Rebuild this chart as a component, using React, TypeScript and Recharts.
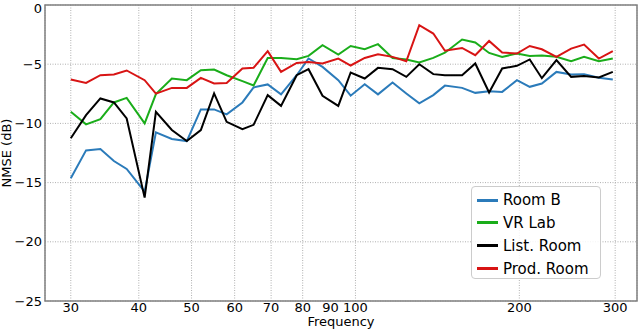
import React from "react";
import {
  CartesianGrid,
  Legend,
  Line,
  LineChart,
  ReferenceArea,
  XAxis,
  YAxis,
} from "recharts";

const frequencies = [
  30, 32, 34, 36, 38, 41, 43, 46, 49, 52, 55, 58, 62, 65, 69, 73, 78, 82, 87,
  93, 98, 104, 110, 117, 124, 131, 139, 146, 157, 166, 176, 186, 198, 209, 220,
  234, 249, 263, 280, 297,
];

const roomB = [
  -14.64, -12.28, -12.17, -13.18, -13.85, -15.77, -10.76, -11.32, -11.49, -8.82,
  -8.82, -9.24, -8.23, -6.96, -6.71, -7.55, -5.93, -4.52, -5.23, -6.35, -7.66,
  -6.69, -7.55, -6.54, -7.47, -8.31, -7.61, -6.81, -7.0, -7.42, -7.28, -7.34,
  -6.35, -6.91, -6.63, -5.65, -5.87, -5.84, -6.15, -6.29,
];

const vrLab = [
  -9.02, -10.08, -9.64, -8.23, -7.84, -10.0, -7.53, -6.21, -6.35, -5.51, -5.45,
  -5.93, -6.43, -6.8, -4.47, -4.47, -4.58, -4.3, -3.4, -4.18, -3.46, -3.74,
  -3.31, -4.47, -4.6, -4.86, -4.47, -4.03, -2.92, -3.17, -4.05, -4.38, -4.1,
  -4.3, -4.27, -4.38, -4.75, -4.38, -4.75, -4.52,
];

const listRoom = [
  -11.26, -9.3, -7.89, -8.23, -9.58, -16.27, -9.02, -10.56, -11.49, -10.56,
  -7.47, -9.87, -10.48, -10.12, -7.61, -8.52, -5.93, -5.42, -7.67, -8.52, -5.7,
  -6.21, -5.31, -5.42, -6.07, -5.0, -5.84, -5.93, -5.93, -4.94, -7.39, -5.36,
  -5.14, -4.6, -6.18, -4.66, -6.07, -5.99, -6.12, -5.65,
];

const prodRoom = [
  -6.29, -6.58, -5.93, -5.87, -5.53, -6.35, -7.49, -7.0, -7.0, -6.16, -6.63,
  -6.58, -5.36, -5.3, -3.9, -5.65, -4.89, -4.81, -4.94, -4.52, -5.11, -4.47,
  -4.16, -4.38, -4.75, -1.71, -2.41, -3.86, -3.63, -4.24, -3.04, -4.01, -4.1,
  -3.46, -3.74, -4.38, -3.68, -3.34, -4.52, -3.9,
];

const xTicks = [30, 40, 50, 60, 70, 80, 90, 100, 200, 300];
const yTicks = [-25, -20, -15, -10, -5, 0];

const series = [
  { key: "roomB", name: "Room B", color: "#2b7bba" },
  { key: "vrLab", name: "VR Lab", color: "#1aad1a" },
  { key: "listRoom", name: "List. Room", color: "#000000" },
  { key: "prodRoom", name: "Prod. Room", color: "#d81414" },
];

const data = frequencies.map((f, i) => ({
  f,
  roomB: roomB[i],
  vrLab: vrLab[i],
  listRoom: listRoom[i],
  prodRoom: prodRoom[i],
}));

const FONT = "DejaVu Sans";
const X_MIN = 26.9;
const X_MAX = 329;

// legend drawn in series order (recharts sorts its payload by name)
function LegendBox() {
  return (
    <div
      style={{
        width: 130,
        height: 93,
        boxSizing: "border-box",
        border: "1px solid #cccccc",
        borderRadius: 4,
        background: "rgba(255,255,255,0.85)",
        position: "relative",
        fontFamily: FONT,
        fontSize: 15,
        color: "#000",
      }}
    >
      {series.map((s, i) => (
        <div
          key={s.key}
          style={{
            position: "absolute",
            left: 0,
            top: 13 + i * 22.9 - 11,
            height: 22,
            display: "flex",
            alignItems: "center",
            whiteSpace: "nowrap",
          }}
        >
          <span
            style={{
              display: "inline-block",
              marginLeft: 5,
              width: 21,
              height: 3,
              background: s.color,
            }}
          />
          <span style={{ marginLeft: 5, lineHeight: "22px" }}>{s.name}</span>
        </div>
      ))}
    </div>
  );
}

export default function App() {
  return (
    <div style={{ position: "absolute", left: 0, top: 0, background: "#fff" }}>
      <LineChart
        width={640}
        height={330}
        data={data}
        margin={{ top: 5, right: 3, bottom: 0, left: 0 }}
      >
        <CartesianGrid
          stroke="#b0b0b0"
          strokeDasharray="1 1.5"
          strokeWidth={1}
        />
        <XAxis
          dataKey="f"
          type="number"
          scale="log"
          domain={[X_MIN, X_MAX]}
          allowDataOverflow
          ticks={xTicks}
          height={29}
          axisLine={false}
          tickLine={false}
          tickSize={1}
          tickMargin={1}
          tick={{ fill: "#000", fontSize: 13, fontFamily: FONT }}
          label={{
            content: (p: any) => {
              const vb = p.viewBox;
              return (
                <text
                  x={vb.x + vb.width / 2}
                  y={vb.y + 25}
                  textAnchor="middle"
                  fontSize={13}
                  fontFamily={FONT}
                  fill="#000"
                >
                  Frequency
                </text>
              );
            },
          }}
        />
        <YAxis
          type="number"
          domain={[-25, 0]}
          ticks={yTicks}
          width={45}
          axisLine={false}
          tickLine={false}
          tickSize={1}
          tickMargin={2}
          tickFormatter={(v: number) => String(v).replace("-", "\u2212")}
          tick={{ fill: "#000", fontSize: 13, fontFamily: FONT }}
          label={{
            content: (p: any) => {
              const vb = p.viewBox;
              const cx = 11;
              const cy = vb.y + vb.height / 2;
              return (
                <text
                  x={cx}
                  y={cy}
                  transform={`rotate(-90 ${cx} ${cy})`}
                  textAnchor="middle"
                  fontSize={13}
                  fontFamily={FONT}
                  fill="#000"
                >
                  NMSE (dB)
                </text>
              );
            },
          }}
        />
        {series.map((s) => (
          <Line
            key={s.key}
            type="linear"
            dataKey={s.key}
            name={s.name}
            stroke={s.color}
            strokeWidth={2}
            dot={false}
            activeDot={false}
            isAnimationActive={false}
          />
        ))}
        <ReferenceArea
          x1={X_MIN}
          x2={X_MAX}
          y1={-25}
          y2={0}
          fill="none"
          stroke="#808080"
          strokeWidth={1.5}
          ifOverflow="visible"
        />
        <Legend
          layout="horizontal"
          verticalAlign="middle"
          align="center"
          wrapperStyle={{ left: 471, top: 186, width: 130, height: 93 }}
          content={() => <LegendBox />}
        />
      </LineChart>
    </div>
  );
}
